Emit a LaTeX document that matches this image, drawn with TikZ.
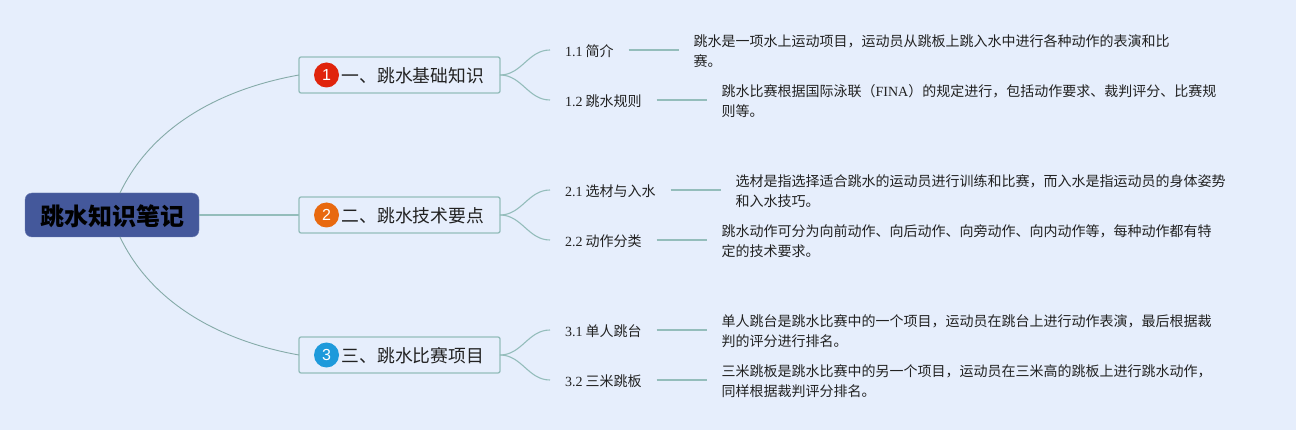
\documentclass[tikz,border=0pt]{standalone}
\usepackage{fontspec}
\setmainfont{Liberation Serif}
\newfontfamily\cjkfont{Noto Sans CJK SC}
\newfontfamily\digitfont{Liberation Sans}
\usetikzlibrary{positioning}

\definecolor{paper}{HTML}{E6EEFC}
\definecolor{branch}{HTML}{94BDBB}
\definecolor{rootblue}{HTML}{44589B}
\definecolor{ink}{HTML}{222222}

\begin{document}
\begin{tikzpicture}[x=1pt, y=-1pt, node distance={50pt},
        root/.style = {rectangle, rounded corners=7pt, fill=rootblue, draw=rootblue!80!white, outer sep=0pt, minimum width=174pt, minimum height=44pt, text height=24pt, text depth=3pt, font=\fontsize{24pt}{26pt}\selectfont\cjkfont\bfseries, text=black},
        topic/.style = {rectangle, rounded corners=2pt, draw=branch, line width=1.3pt, fill=paper, outer sep=0pt, minimum height=36pt, inner xsep=16pt, text width=169pt, text height=17.8pt, text depth=2.1pt, align=right, font=\fontsize{17.8pt}{20pt}\selectfont\cjkfont, text=ink},
        icon/.style = {circle, outer sep=0pt, inner sep=0pt, minimum size=25pt, text=white, font=\fontsize{16pt}{18pt}\selectfont\digitfont},
        sub/.style = {outer sep=0pt, inner xsep=15pt, inner ysep=0pt, text height=14.3pt, text depth=1.7pt, font=\fontsize{14pt}{16pt}\selectfont\cjkfont, text=ink},
        detail/.style = {outer sep=0pt, inner xsep=15pt, inner ysep=0pt, yshift=-1pt, align=left, font=\fontsize{14pt}{20pt}\selectfont\cjkfont, text=ink},
        thin branch/.style = {draw=branch!90!black, line width=0.9pt},
        mid branch/.style = {draw=branch, line width=1.1pt},
        thick branch/.style = {draw=branch, line width=1.4pt}]
            \useasboundingbox (0,0) rectangle (1296,430);
            \fill[paper] (0,0) rectangle (1296,430);

            % Nodes
            \node[root] (root) at (112,215) {跳水知识笔记};

            \node[topic, anchor=west] (t1) at (299,75) {一、跳水基础知识};
            \node[topic, anchor=west] (t2) at (299,215) {二、跳水技术要点};
            \node[topic, anchor=west] (t3) at (299,355) {三、跳水比赛项目};

            \node[icon, fill={rgb,255:red,224;green,36;blue,12}, right=15pt of t1.west] (i1) {1};
            \node[icon, fill={rgb,255:red,232;green,105;blue,15}, right=15pt of t2.west] (i2) {2};
            \node[icon, fill={rgb,255:red,30;green,154;blue,219}, right=15pt of t3.west] (i3) {3};

            \node[sub, anchor=west] (s11) at (550,50) {{\rmfamily 1.1} 简介};
            \node[sub, anchor=west] (s12) at (550,100) {{\rmfamily 1.2} 跳水规则};
            \node[sub, anchor=west] (s21) at (550,190) {{\rmfamily 2.1} 选材与入水};
            \node[sub, anchor=west] (s22) at (550,240) {{\rmfamily 2.2} 动作分类};
            \node[sub, anchor=west] (s31) at (550,330) {{\rmfamily 3.1} 单人跳台};
            \node[sub, anchor=west] (s32) at (550,380) {{\rmfamily 3.2} 三米跳板};

            \node[detail, right=of s11] (d11) {跳水是一项水上运动项目，运动员从跳板上跳入水中进行各种动作的表演和比\\赛。};
            \node[detail, right=of s12] (d12) {跳水比赛根据国际泳联（{\rmfamily FINA}）的规定进行，包括动作要求、裁判评分、比赛规\\则等。};
            \node[detail, right=of s21] (d21) {选材是指选择适合跳水的运动员进行训练和比赛，而入水是指运动员的身体姿势\\和入水技巧。};
            \node[detail, right=of s22] (d22) {跳水动作可分为向前动作、向后动作、向旁动作、向内动作等，每种动作都有特\\定的技术要求。};
            \node[detail, right=of s31] (d31) {单人跳台是跳水比赛中的一个项目，运动员在跳台上进行动作表演，最后根据裁\\判的评分进行排名。};
            \node[detail, right=of s32] (d32) {三米跳板是跳水比赛中的另一个项目，运动员在三米高的跳板上进行跳水动作，\\同样根据裁判评分排名。};

            % Lines
            \draw[thin branch] ([xshift=8pt]root.north) .. controls (150,130) and (215,90) .. (t1.west);
            \draw[thick branch] (root) -- (t2);
            \draw[thin branch] ([xshift=8pt]root.south) .. controls (150,300) and (215,340) .. (t3.west);

            \draw[mid branch] (t1.east) to[out=0, in=180] (s11.west);
            \draw[mid branch] (t1.east) to[out=0, in=180] (s12.west);
            \draw[mid branch] (t2.east) to[out=0, in=180] (s21.west);
            \draw[mid branch] (t2.east) to[out=0, in=180] (s22.west);
            \draw[mid branch] (t3.east) to[out=0, in=180] (s31.west);
            \draw[mid branch] (t3.east) to[out=0, in=180] (s32.west);

            \draw[thick branch] (s11.east) -- (s11 -| d11.west);
            \draw[thick branch] (s12.east) -- (s12 -| d12.west);
            \draw[thick branch] (s21.east) -- (s21 -| d21.west);
            \draw[thick branch] (s22.east) -- (s22 -| d22.west);
            \draw[thick branch] (s31.east) -- (s31 -| d31.west);
            \draw[thick branch] (s32.east) -- (s32 -| d32.west);

        \end{tikzpicture}
\end{document}
